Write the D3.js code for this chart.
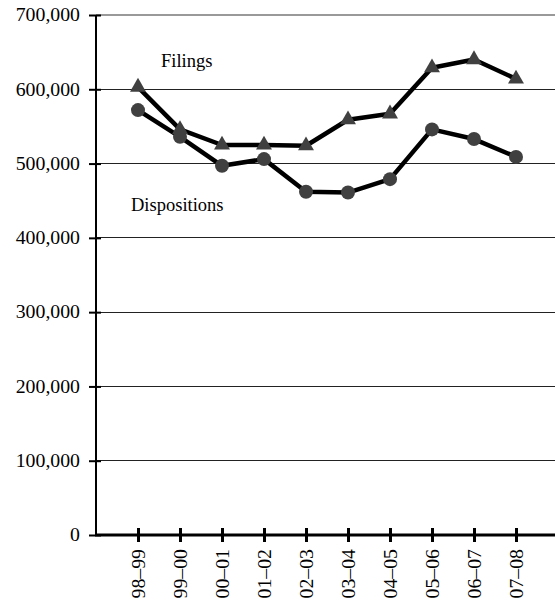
<!DOCTYPE html>
<html><head><meta charset="utf-8">
<script src="https://cdn.jsdelivr.net/npm/d3@7"></script>
<style>
body{margin:0;background:#fff;}
text{font-family:"Liberation Serif","Times New Roman",serif;fill:#000;}
</style></head>
<body><svg id="c" width="555" height="602"></svg>
<script>
const categories = ["98–99","99–00","00–01","01–02","02–03","03–04","04–05","05–06","06–07","07–08"];
const filings = [603000, 546000, 525000, 525000, 524000, 559000, 567000, 629000, 640000, 614000];
const dispositions = [572000, 536000, 497000, 506000, 462000, 461000, 479000, 546000, 533000, 509000];
const yTicks = [0, 100000, 200000, 300000, 400000, 500000, 600000, 700000];

const svg = d3.select("#c");
const x0 = 96, y0 = 535, yTop = 15;
const x = d3.scalePoint().domain(categories).range([x0, x0 + 42*11]).padding(1);
const y = d3.scaleLinear().domain([0, 700000]).range([y0, yTop]);
const fmt = d3.format(",");

// gridlines
svg.append("g").selectAll("line").data(yTicks.filter(d => d > 0)).join("line")
  .attr("x1", x0).attr("x2", 555)
  .attr("y1", d => y(d)).attr("y2", d => y(d))
  .attr("stroke", d => d === 700000 ? "#999" : "#222")
  .attr("stroke-width", d => d === 700000 ? 2 : 1)
  .attr("shape-rendering", "crispEdges");

// y axis
const ya = svg.append("g").attr("transform", `translate(${x0},0)`)
  .call(d3.axisLeft(y).tickValues(yTicks).tickFormat(fmt).tickSize(6).tickPadding(10));
ya.select(".domain").remove();
ya.append("line").attr("x1", 0).attr("x2", 0).attr("y1", y(700000)).attr("y2", y(0)).attr("stroke", "#000").attr("stroke-width", 2);
ya.selectAll(".tick line").attr("x1", -7).attr("x2", 5).attr("stroke", "#000").attr("stroke-width", 2);
ya.selectAll(".tick text").attr("font-size", 18).attr("font-family", "Liberation Serif").attr("fill", "#000")
  .attr("transform", "scale(1.1,1)").attr("x", -16/1.1);

// x axis
const xa = svg.append("g").attr("transform", `translate(0,${y0})`)
  .call(d3.axisBottom(x).tickSize(7).tickPadding(14));
xa.select(".domain").remove();
xa.append("line").attr("x1", x0 - 1).attr("x2", 555).attr("y1", 0).attr("y2", 0).attr("stroke", "#000").attr("stroke-width", 3);
xa.selectAll(".tick line").attr("y1", -7).attr("y2", 7).attr("stroke", "#000").attr("stroke-width", 3);
xa.selectAll(".tick text").attr("font-size", 18).attr("font-family", "Liberation Serif").attr("fill", "#000")
  .attr("transform", "rotate(-90) scale(1.1,1)")
  .attr("text-anchor", "end").attr("x", -14/1.1).attr("y", 0).attr("dy", "0.35em");

// lines
const line = d3.line().x((d, i) => x(categories[i])).y(d => y(d));
[filings, dispositions].forEach(s => {
  svg.append("path").datum(s).attr("d", line).attr("fill", "none")
    .attr("stroke", "#000").attr("stroke-width", 4.5).attr("stroke-linejoin", "round");
});

// markers
svg.append("g").selectAll("path").data(filings).join("path")
  .attr("d", d3.symbol().type(d3.symbolTriangle).size(110))
  .attr("transform", (d, i) => `translate(${x(categories[i])},${y(d)})`)
  .attr("fill", "#404040");
svg.append("g").selectAll("circle").data(dispositions).join("circle")
  .attr("cx", (d, i) => x(categories[i])).attr("cy", d => y(d)).attr("r", 7)
  .attr("fill", "#404040");

// labels
svg.append("text").attr("x", 161).attr("y", 67).attr("font-size", 18.5).text("Filings");
svg.append("text").attr("x", 131).attr("y", 211).attr("font-size", 18.5).text("Dispositions");
</script></body></html>
